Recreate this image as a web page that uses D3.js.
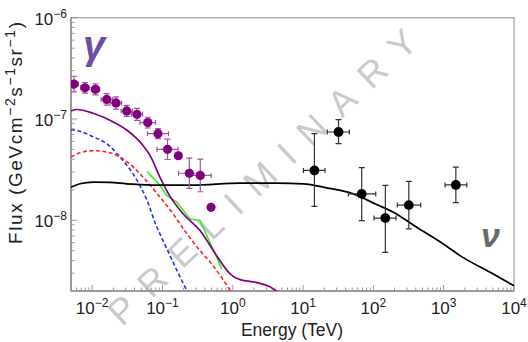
<!DOCTYPE html>
<html>
<head>
<meta charset="utf-8">
<script src="https://cdn.jsdelivr.net/npm/d3@7"></script>
<style>
body{margin:0;background:#fff}
text{font-family:"Liberation Sans",Arial,sans-serif}
</style>
</head>
<body>
<svg id="chart" width="528" height="342"></svg>
<script>
// gamma-ray data points (TeV, GeV cm^-2 s^-1 sr^-1)
var gammaE   = [0.00552,0.0079,0.01115,0.0161,0.0218,0.031,0.0434,0.0617,0.0864,0.118,0.168,0.241,0.345,0.49]
var gammaF   = [2.21e-7,2.03e-7,1.96e-7,1.56e-7,1.44e-7,1.20e-7,1.11e-7,9.22e-8,7.16e-8,5.01e-8,4.33e-8,2.91e-8,2.77e-8,1.34e-8]
var gammaFlo = [1.85e-7,1.80e-7,1.73e-7,1.37e-7,1.25e-7,1.06e-7,0.97e-7,8.14e-8,6.38e-8,3.98e-8,null,2.06e-8,1.91e-8,null]
var gammaFhi = [2.64e-7,2.29e-7,2.22e-7,1.78e-7,1.65e-7,1.36e-7,1.27e-7,1.04e-7,8.03e-8,6.31e-8,null,4.11e-8,4.01e-8,null]
var gammaElo = [0.00481,0.00688,0.00971,0.0134,0.0181,0.0258,0.0361,0.0479,0.0611,0.0835,null,0.169,0.241,null]
var gammaEhi = [0.00634,0.00907,0.0128,0.0194,0.0262,0.0373,0.0522,0.0795,0.122,0.167,null,0.344,0.493,null]

// neutrino data points
var nuE   = [14.5,31.9,68.2,148,319,1489]
var nuF   = [3.10e-8,7.43e-8,1.82e-8,1.05e-8,1.41e-8,2.23e-8]
var nuFlo = [1.37e-8,5.70e-8,9.93e-9,4.82e-9,8.22e-9,1.49e-8]
var nuFhi = [7.16e-8,9.86e-8,3.30e-8,2.21e-8,2.42e-8,3.35e-8]
var nuElo = [10.1,22.1,44.1,102,219,1045]
var nuEhi = [20.5,45.5,108,210,471,2128]

// model curves
var nuModelE = [0.005,0.00671,0.0104,0.01794,0.031,0.0922,0.272,1.27,4.22,10.1,21.7,51.8,111,192,413,988,1706,5080,10000]
var nuModelF = [2.12e-8,2.29e-8,2.38e-8,2.36e-8,2.29e-8,2.22e-8,2.22e-8,2.32e-8,2.32e-8,2.29e-8,2.09e-8,1.82e-8,1.43e-8,1.20e-8,8.53e-9,5.83e-9,4.47e-9,2.94e-9,2.25e-9]
var gammaModelE = [0.005,0.00608,0.01028,0.01794,0.0313,0.0529,0.0665,0.0922,0.128,0.196,0.342,0.578,0.914,1.27,2.21,3.39,4.26]
var gammaModelF = [1.20e-7,1.24e-7,1.14e-7,9.70e-8,7.73e-8,5.48e-8,4.37e-8,2.65e-8,1.72e-8,1.16e-8,7.91e-9,4.57e-9,2.96e-9,2.59e-9,2.42e-9,2.20e-9,1.97e-9]
var blueE = [0.005,0.00671,0.01028,0.01626,0.0249,0.0313,0.0435,0.0603,0.0783,0.1018,0.128,0.161,0.223]
var blueF = [7.82e-8,7.55e-8,6.67e-8,5.68e-8,4.20e-8,3.48e-8,2.47e-8,1.57e-8,9.48e-9,6.29e-9,4.47e-9,3.18e-9,2.01e-9]
var redE = [0.005,0.00671,0.01028,0.01626,0.0249,0.0381,0.0565,0.0922,0.141,0.223,0.342,0.524,0.944]
var redF = [4.21e-8,4.63e-8,4.86e-8,4.71e-8,4.21e-8,3.37e-8,2.53e-8,1.69e-8,1.16e-8,7.33e-9,5.01e-9,3.56e-9,1.97e-9]
var greenE = [0.0603,0.0922,0.1148,0.1594,0.2466,0.342,0.697]
var greenF = [3.03e-8,2.21e-8,1.76e-8,1.51e-8,1.03e-8,9.93e-9,3.33e-9]

// ticks
var xMajor = [0.01,0.1,1,10,100,1000,10000]
var xExp = ["\u22122","\u22121","0","1","2","3","4"]
var yMajor = [1e-8,1e-7,1e-6]
var yExp = ["\u22128","\u22127","\u22126"]

// plot box (note: "top" is taken by window.top)
var pLeft = 71, pRight = 514, pTop = 17.7, pBottom = 291
var svg = d3.select("#chart")

var x = d3.scaleLog().domain([0.005, 1e4]).range([pLeft, pRight])
var y = d3.scaleLog().domain([2e-9, 1e-6]).range([pBottom, pTop])

svg.append("defs").append("clipPath").attr("id", "plot")
  .append("rect").attr("x", pLeft).attr("y", pTop)
  .attr("width", pRight - pLeft).attr("height", pBottom - pTop)

// watermark
svg.append("text")
  .attr("transform", "translate(262,177) rotate(-43.5)")
  .attr("text-anchor", "middle")
  .attr("dominant-baseline", "central")
  .attr("font-size", 36)
  .attr("fill", "#c9c9c9")
  .attr("textLength", 410)
  .attr("lengthAdjust", "spacing")
  .text("PRELIMINARY")

// minor ticks
function minors(lo, hi) {
  var out = []
  for (var d = lo; d <= hi; d++) {
    for (var k = 1; k <= 9; k++) out.push(k * Math.pow(10, d))
  }
  return out
}
function isMajor(list, v) {
  return list.some(function(m) { return Math.abs(m - v) / m < 1e-6 })
}
var xMinor = minors(-3, 4).filter(function(v) { return v >= 0.005 * 0.999 && v <= 1e4 * 1.001 })
var yMinor = minors(-9, -6).filter(function(v) { return v >= 2e-9 * 0.999 && v <= 1e-6 * 1.001 })

var g = svg.append("g")
// frame
g.append("rect").attr("x", pLeft).attr("y", pTop)
  .attr("width", pRight - pLeft).attr("height", pBottom - pTop)
  .attr("fill", "none").attr("stroke", "#a8a8a8").attr("stroke-width", 1.3)
g.append("line").attr("x1", pLeft).attr("x2", pLeft).attr("y1", pTop).attr("y2", pBottom)
  .attr("stroke", "#999").attr("stroke-width", 2)
g.append("line").attr("x1", pLeft).attr("x2", pRight).attr("y1", pBottom).attr("y2", pBottom)
  .attr("stroke", "#999").attr("stroke-width", 2)

g.selectAll(".xminor").data(xMinor).enter().append("line")
  .attr("x1", function(d) { return x(d) }).attr("x2", function(d) { return x(d) })
  .attr("y1", pBottom).attr("y2", function(d) { return isMajor(xMajor, d) ? pBottom - 6 : pBottom - 3.5 })
  .attr("stroke", "#999").attr("stroke-width", 1)
g.selectAll(".yminor").data(yMinor).enter().append("line")
  .attr("y1", function(d) { return y(d) }).attr("y2", function(d) { return y(d) })
  .attr("x1", pLeft).attr("x2", function(d) { return isMajor(yMajor, d) ? pLeft + 6 : pLeft + 3.5 })
  .attr("stroke", "#999").attr("stroke-width", 1)

// tick labels
xMajor.forEach(function(v, i) {
  var t = svg.append("text").attr("x", x(v)).attr("y", 314)
    .attr("text-anchor", "middle").attr("font-size", 17).attr("fill", "#222")
  t.append("tspan").text("10")
  t.append("tspan").attr("font-size", 12).attr("dy", -7).text(xExp[i])
})
yMajor.forEach(function(v, i) {
  var t = svg.append("text").attr("x", 67).attr("y", y(v) + 7)
    .attr("text-anchor", "end").attr("font-size", 17).attr("fill", "#222")
  t.append("tspan").text("10")
  t.append("tspan").attr("font-size", 12).attr("dy", -7).text(yExp[i])
})

// axis titles
svg.append("text").attr("x", 292).attr("y", 336)
  .attr("text-anchor", "middle").attr("font-size", 17.5).attr("fill", "#222")
  .text("Energy (TeV)")
var yt = svg.append("text").attr("transform", "translate(22,133) rotate(-90)")
  .attr("text-anchor", "middle").attr("font-size", 19).attr("fill", "#222")
  .attr("textLength", 222).attr("lengthAdjust", "spacing")
yt.append("tspan").text("Flux (GeVcm")
yt.append("tspan").attr("font-size", 14).attr("dy", -7).text("\u22122")
yt.append("tspan").attr("dy", 7).text("s")
yt.append("tspan").attr("font-size", 14).attr("dy", -7).text("\u22121")
yt.append("tspan").attr("dy", 7).text("sr")
yt.append("tspan").attr("font-size", 14).attr("dy", -7).text("\u22121")
yt.append("tspan").attr("dy", 7).text(")")

// curves
var plot = svg.append("g").attr("clip-path", "url(#plot)")
function drawCurve(es, fs, color, dash, curve, width) {
  var pts = es.map(function(e, i) { return [e, fs[i]] })
  plot.append("path").datum(pts)
    .attr("fill", "none").attr("stroke", color).attr("stroke-width", width)
    .attr("stroke-dasharray", dash)
    .attr("d", d3.line().curve(curve)
      .x(function(d) { return x(d[0]) })
      .y(function(d) { return y(d[1]) }))
}
drawCurve(blueE, blueF, "#1f2fff", "4,2.5", d3.curveMonotoneX, 1.6)
drawCurve(redE, redF, "#ff2020", "4,2.5", d3.curveMonotoneX, 1.6)
drawCurve(greenE, greenF, "#33ee22", null, d3.curveLinear, 1.6)
drawCurve(gammaModelE, gammaModelF, "#800080", null, d3.curveMonotoneX, 1.7)
drawCurve(nuModelE, nuModelF, "#000", null, d3.curveMonotoneX, 1.7)

// error bars + points
function drawPoints(E, F, Elo, Ehi, Flo, Fhi, barColor, dotColor, r) {
  E.forEach(function(e, i) {
    var cx = x(e), cy = y(F[i])
    if (Flo[i] != null) {
      plot.append("line").attr("x1", cx).attr("x2", cx).attr("y1", y(Flo[i])).attr("y2", y(Fhi[i]))
        .attr("stroke", barColor).attr("stroke-width", 1.2)
      ;[Flo[i], Fhi[i]].forEach(function(f) {
        plot.append("line").attr("x1", cx - 3).attr("x2", cx + 3).attr("y1", y(f)).attr("y2", y(f))
          .attr("stroke", barColor).attr("stroke-width", 1.2)
      })
    }
    if (Elo[i] != null) {
      plot.append("line").attr("x1", x(Elo[i])).attr("x2", x(Ehi[i])).attr("y1", cy).attr("y2", cy)
        .attr("stroke", barColor).attr("stroke-width", 1.2)
      ;[Elo[i], Ehi[i]].forEach(function(ev) {
        plot.append("line").attr("x1", x(ev)).attr("x2", x(ev)).attr("y1", cy - 2.5).attr("y2", cy + 2.5)
          .attr("stroke", barColor).attr("stroke-width", 1.2)
      })
    }
  })
  E.forEach(function(e, i) {
    plot.append("circle").attr("cx", x(e)).attr("cy", y(F[i])).attr("r", r).attr("fill", dotColor)
  })
}
drawPoints(gammaE, gammaF, gammaElo, gammaEhi, gammaFlo, gammaFhi, "#a055a0", "#800080", 4.6)
drawPoints(nuE, nuF, nuElo, nuEhi, nuFlo, nuFhi, "#333", "#000", 4.9)

// particle labels
svg.append("text").attr("x", 83).attr("y", 59)
  .attr("font-family", "DejaVu Sans").attr("font-style", "italic").attr("font-weight", "bold")
  .attr("font-size", 40).attr("fill", "#6c4d9e").text("\u03b3")
svg.append("text").attr("x", 481).attr("y", 247)
  .attr("font-family", "DejaVu Sans").attr("font-style", "italic").attr("font-weight", "bold")
  .attr("font-size", 34).attr("fill", "#6a6a6a").text("\u03bd")
</script>
</body>
</html>
